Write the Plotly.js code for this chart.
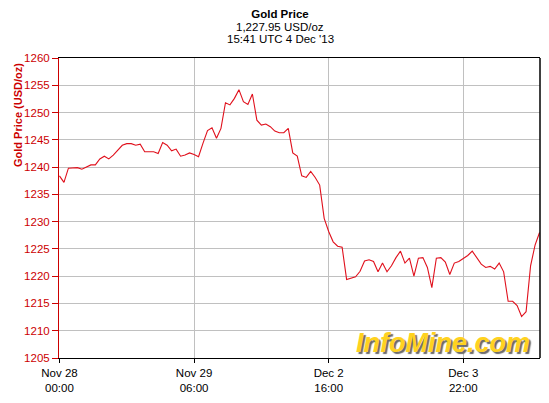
<!DOCTYPE html>
<html>
<head>
<meta charset="utf-8">
<script src="https://cdn.plot.ly/plotly-3.0.1.min.js"></script>
<style>
  html, body { margin: 0; padding: 0; background: #ffffff; }
  #chart { width: 549px; height: 403px; }
</style>
</head>
<body>
<div id="chart"></div>
<script>
// Hourly gold price readings (USD/oz), one per trading hour
const prices = [
  1238.4, 1237.2, 1239.8, 1239.8, 1239.9, 1239.6, 1240.0, 1240.4, 1240.4, 1241.5,
  1242.0, 1241.5, 1242.2, 1243.2, 1244.0, 1244.3, 1244.3, 1244.0, 1244.2, 1242.8,
  1242.8, 1242.8, 1242.5, 1244.5, 1244.0, 1243.0, 1243.3, 1242.0, 1242.2, 1242.6,
  1242.3, 1241.9, 1244.4, 1246.7, 1247.2, 1245.3, 1247.1, 1251.8, 1251.4, 1252.6,
  1254.2, 1252.0, 1251.5, 1253.4, 1248.6, 1247.7, 1247.9, 1247.4, 1246.6, 1246.3,
  1246.3, 1247.1, 1242.6, 1242.0, 1238.4, 1238.1, 1239.2, 1238.1, 1236.7, 1230.6,
  1228.2, 1226.3, 1225.5, 1225.3, 1219.4, 1219.6, 1219.9, 1220.9, 1222.8, 1223.0,
  1222.7, 1220.8, 1222.4, 1220.8, 1221.9, 1223.4, 1224.6, 1222.4, 1223.3, 1220.0,
  1223.3, 1223.4, 1221.6, 1217.9, 1223.3, 1223.4, 1222.6, 1220.3, 1222.4, 1222.7,
  1223.3, 1223.8, 1224.6, 1223.4, 1222.2, 1221.6, 1221.8, 1221.3, 1222.4, 1220.8,
  1215.4, 1215.4, 1214.6, 1212.6, 1213.5, 1221.9, 1225.7, 1228.0
];
const hourIndex = prices.map((_, i) => i);

const tickPositions = [0, 30, 60, 90];
const tickLabels = ["Nov 28<br>00:00", "Nov 29<br>06:00", "Dec 2<br>16:00", "Dec 3<br>22:00"];
const yTicks = [1205, 1210, 1215, 1220, 1225, 1230, 1235, 1240, 1245, 1250, 1255, 1260];

const titleText = "Gold Price";
const subtitleLine1 = "1,227.95 USD/oz";
const subtitleLine2 = "15:41 UTC 4 Dec '13";
const yTitle = "Gold Price (USD/oz)";
const watermark = "InfoMine.com";

const FONT = "Liberation Sans, Arial, sans-serif";
const RED = "#cc0000";

const trace = {
  type: "scatter",
  mode: "lines",
  x: hourIndex,
  y: prices,
  line: { color: "#e0101c", width: 1.1 },
  hoverinfo: "y"
};

const layout = {
  width: 549,
  height: 403,
  margin: { l: 59, r: 9, t: 58, b: 45 },
  paper_bgcolor: "#ffffff",
  plot_bgcolor: "#ffffff",
  showlegend: false,
  font: { family: FONT, size: 11.5, color: "#000000" },
  title: {
    text: "<b>" + titleText + "</b>",
    font: { family: FONT, size: 11.5, color: "#000000" },
    x: 0.51, xanchor: "center",
    y: 0.9665, yanchor: "middle"
  },
  xaxis: {
    range: [-0.1, 107.1],
    tickmode: "array",
    tickvals: tickPositions,
    ticktext: tickLabels,
    showgrid: true,
    gridcolor: "#c0c0c0",
    gridwidth: 1,
    zeroline: false,
    showline: true,
    linecolor: "#000000",
    linewidth: 1,
    mirror: true,
    ticks: "outside",
    ticklen: 4,
    tickcolor: "#000000",
    tickfont: { family: FONT, size: 11.5, color: "#000000" }
  },
  yaxis: {
    range: [1205, 1260],
    tickmode: "array",
    tickvals: yTicks,
    showgrid: true,
    gridcolor: "#c0c0c0",
    gridwidth: 1,
    zeroline: false,
    showline: true,
    linecolor: RED,
    linewidth: 1,
    ticks: "outside",
    ticklen: 6,
    tickcolor: RED,
    tickfont: { family: FONT, size: 11.5, color: RED }
  },
  shapes: [
    { type: "line", xref: "paper", yref: "paper", x0: 1, x1: 1, y0: 0, y1: 1,
      line: { color: "#000000", width: 1.5 } }
  ],
  annotations: [
    { text: subtitleLine1, xref: "paper", yref: "paper", x: 0.4595, y: 1.105,
      xanchor: "center", yanchor: "middle", showarrow: false,
      font: { family: FONT, size: 11.5, color: "#000000" } },
    { text: subtitleLine2, xref: "paper", yref: "paper", x: 0.4595, y: 1.0643,
      xanchor: "center", yanchor: "middle", showarrow: false,
      font: { family: FONT, size: 11.5, color: "#000000" } },
    { text: "<b>" + yTitle + "</b>", xref: "paper", yref: "paper", x: -0.0852, y: 0.81,
      xanchor: "center", yanchor: "middle", textangle: -90, showarrow: false,
      font: { family: FONT, size: 11, color: RED } },
    { text: "<b><i>" + watermark + "</i></b>", xref: "paper", yref: "paper", x: 0.799, y: 0.05,
      xanchor: "center", yanchor: "middle", showarrow: false,
      font: { family: FONT, size: 27, color: "#ffd21f", shadow: "2px 2px 1px #6b6b6b" } }
  ]
};

Plotly.newPlot("chart", [trace], layout, { displayModeBar: false, staticPlot: true });
</script>
</body>
</html>
